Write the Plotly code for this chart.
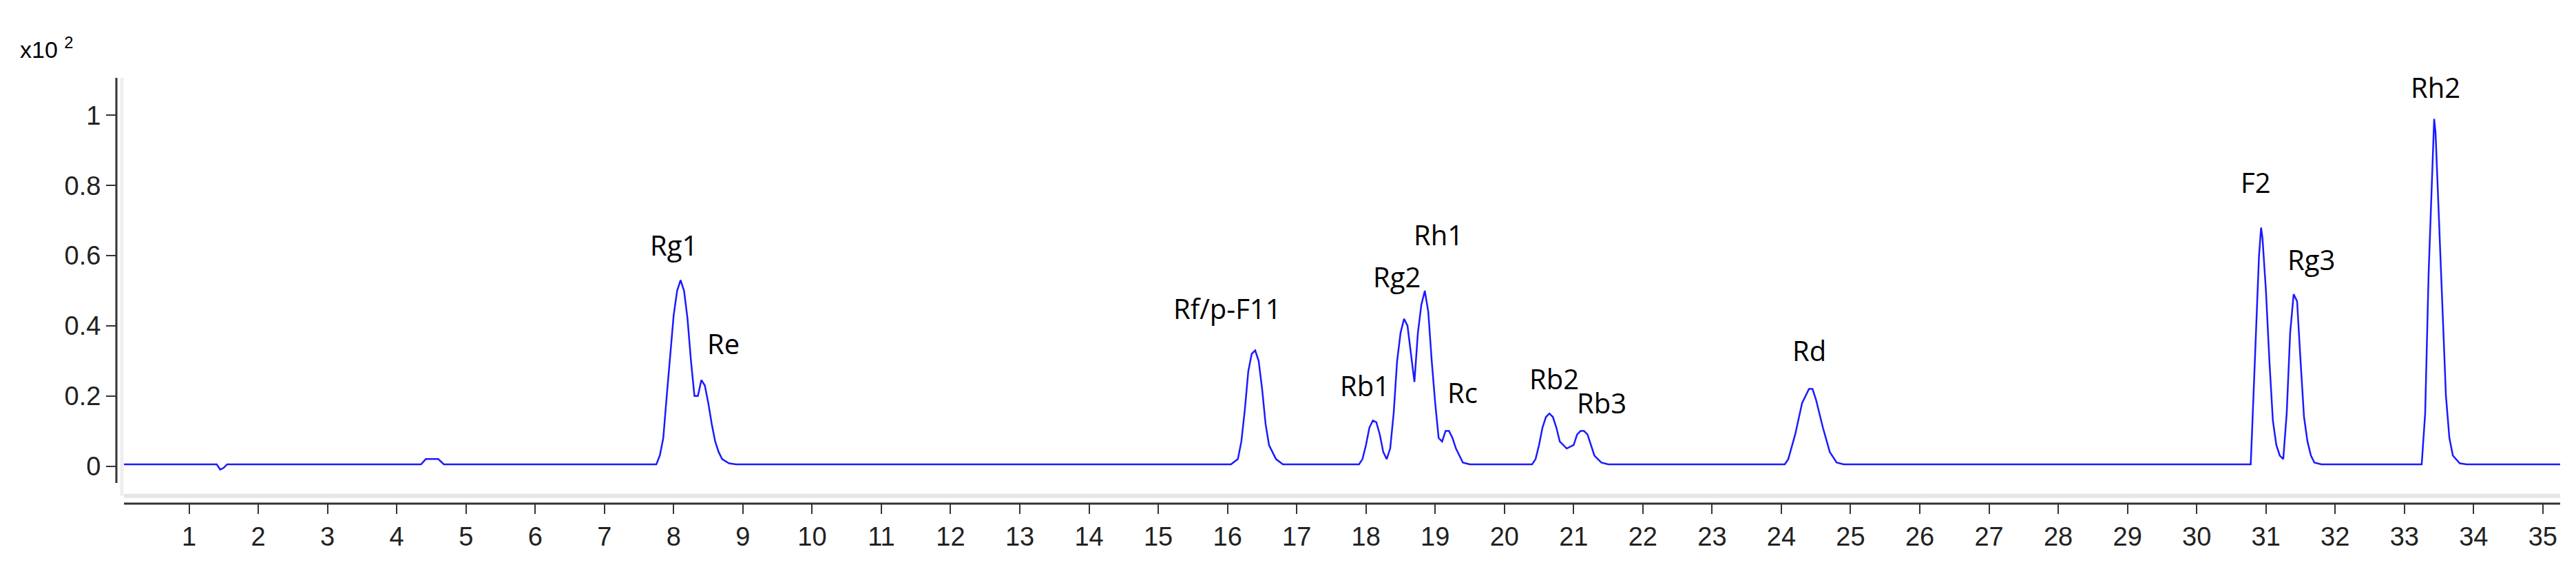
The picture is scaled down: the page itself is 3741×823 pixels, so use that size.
import plotly.graph_objects as go

# retention time (min) / signal (x10^2)
seg_x = [
    [0.06, 1.4, 1.45, 1.5, 1.55, 4.35, 4.42, 4.6, 4.68],
    [7.75, 7.8, 7.85, 7.9, 7.95, 8.0, 8.05, 8.1, 8.15, 8.2, 8.25, 8.3, 8.35, 8.4, 8.45, 8.5, 8.55, 8.6, 8.65, 8.7, 8.8, 8.9],
    [16.05, 16.15, 16.2, 16.25, 16.3, 16.35, 16.4, 16.45, 16.5, 16.55, 16.6, 16.7, 16.8],
    [17.9, 17.95, 18.0, 18.05, 18.1, 18.15, 18.2, 18.25, 18.3, 18.35, 18.4, 18.45, 18.5, 18.55, 18.6, 18.65, 18.7, 18.75, 18.8, 18.85, 18.9, 18.95, 19.0, 19.05, 19.1, 19.15, 19.2, 19.25, 19.3, 19.4, 19.5],
    [20.4, 20.45, 20.5, 20.55, 20.6, 20.65, 20.7, 20.75, 20.8, 20.9, 21.0, 21.05, 21.1, 21.15, 21.2, 21.25, 21.3, 21.4, 21.5],
    [24.05, 24.1, 24.2, 24.3, 24.4, 24.45, 24.5, 24.6, 24.7, 24.8, 24.9],
    [30.78, 30.8, 30.85, 30.9, 30.93, 30.95, 31.0, 31.05, 31.1, 31.15, 31.2, 31.25, 31.3, 31.35, 31.4, 31.45, 31.5, 31.55, 31.6, 31.65, 31.7, 31.8],
    [33.25, 33.3, 33.35, 33.4, 33.43, 33.45, 33.5, 33.55, 33.6, 33.65, 33.7, 33.8, 33.9, 35.25],
]
seg_y = [
    [0.005, 0.005, -0.01, -0.005, 0.005, 0.005, 0.02, 0.02, 0.005],
    [0.005, 0.03, 0.08, 0.2, 0.32, 0.43, 0.5, 0.53, 0.5, 0.42, 0.3, 0.2, 0.2, 0.245, 0.23, 0.18, 0.12, 0.07, 0.04, 0.02, 0.008, 0.005],
    [0.005, 0.02, 0.07, 0.16, 0.27, 0.32, 0.33, 0.3, 0.22, 0.12, 0.06, 0.02, 0.005],
    [0.005, 0.02, 0.06, 0.11, 0.13, 0.125, 0.09, 0.04, 0.02, 0.05, 0.15, 0.3, 0.38, 0.42, 0.4, 0.32, 0.24, 0.38, 0.46, 0.5, 0.44, 0.3, 0.18, 0.08, 0.07, 0.1, 0.1, 0.08, 0.05, 0.01, 0.005],
    [0.005, 0.02, 0.06, 0.11, 0.14, 0.15, 0.14, 0.11, 0.07, 0.05, 0.06, 0.09, 0.1, 0.1, 0.09, 0.06, 0.03, 0.01, 0.005],
    [0.005, 0.02, 0.09, 0.18, 0.22, 0.22, 0.19, 0.11, 0.04, 0.01, 0.005],
    [0.005, 0.1, 0.36, 0.6, 0.68, 0.65, 0.5, 0.3, 0.13, 0.06, 0.03, 0.02, 0.15, 0.38, 0.49, 0.47, 0.3, 0.14, 0.07, 0.03, 0.01, 0.005],
    [0.005, 0.15, 0.55, 0.85, 0.99, 0.95, 0.7, 0.42, 0.2, 0.08, 0.03, 0.008, 0.005, 0.005],
]
peak_names = ["Rg1", "Re", "Rf/p-F11", "Rb1", "Rg2", "Rh1", "Rc", "Rb2", "Rb3", "Rd", "F2", "Rg3", "Rh2"]
label_x = [8.0, 8.72, 16.0, 17.98, 18.45, 19.05, 19.4, 20.72, 21.4, 24.4, 30.85, 31.65, 33.45]
label_y = [0.63, 0.35, 0.45, 0.23, 0.54, 0.66, 0.21, 0.25, 0.18, 0.33, 0.81, 0.59, 1.08]
x_ticks = list(range(1, 36))
y_ticks = [0, 0.2, 0.4, 0.6, 0.8, 1]
y_tick_text = ["0", "0.2", "0.4", "0.6", "0.8", "1"]

xs = [v for s in seg_x for v in s]
ys = [v for s in seg_y for v in s]

fig = go.Figure()
fig.add_trace(go.Scatter(x=xs, y=ys, mode="lines", line=dict(color="#1a1aff", width=2.5), showlegend=False))

for n, lx, ly in zip(peak_names, label_x, label_y):
    fig.add_annotation(x=lx, y=ly, text=n, showarrow=False, font=dict(family="Open Sans", size=40, color="black"))

fig.add_annotation(xref="paper", yref="paper", x=-0.04, y=1.07, xanchor="left", yanchor="middle",
                   text="x10 <sup>2</sup>", showarrow=False,
                   font=dict(family="Liberation Sans Narrow, Liberation Sans", size=34, color="black"))

tickfont = dict(family="Liberation Sans Narrow, Liberation Sans", size=38, color="#222")
fig.update_layout(
    width=3741, height=823, plot_bgcolor="white", paper_bgcolor="white",
    margin=dict(l=161, r=31, t=105, b=100),
    xaxis=dict(range=[-0.05, 35.25], tickvals=x_ticks, ticks="outside", ticklen=14, tickwidth=2,
               tickcolor="#333", showgrid=False, zeroline=False, showline=False, tickfont=tickfont),
    yaxis=dict(range=[-0.107, 1.107], tickvals=y_ticks, ticktext=y_tick_text, ticks="outside", ticklen=14,
               tickwidth=2, tickcolor="#333", showgrid=False, zeroline=False, showline=False, tickfont=tickfont),
)
# axis lines (detached, as in the instrument software)
fig.add_shape(type="line", xref="x", yref="paper", x0=0.06, x1=35.25, y0=0, y1=0, line=dict(color="#333", width=3))
fig.add_shape(type="line", xref="paper", yref="y", x0=0, x1=0, y0=-0.048, y1=1.107, line=dict(color="#333", width=3))
fig.add_shape(type="line", xref="x", yref="y", x0=0.06, x1=35.25, y0=-0.085, y1=-0.085, line=dict(color="#e6e6e6", width=6))
fig.add_shape(type="line", xref="x", yref="y", x0=0.03, x1=0.03, y0=-0.085, y1=1.107, line=dict(color="#eeeeee", width=5))
fig.write_html("out.html")
